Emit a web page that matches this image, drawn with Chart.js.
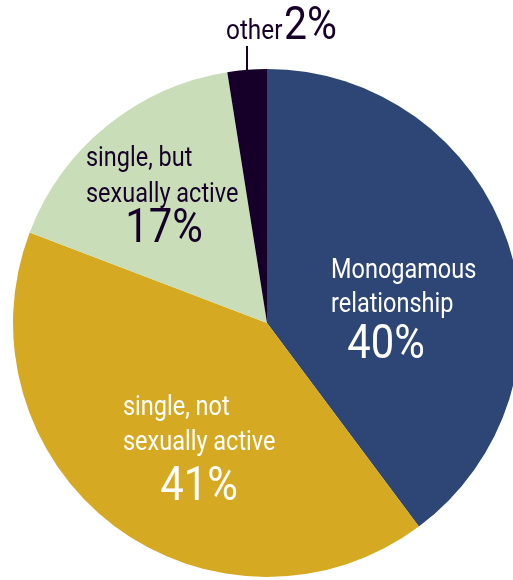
<!DOCTYPE html>
<html>
<head>
<meta charset="utf-8">
<script src="https://cdn.jsdelivr.net/npm/chart.js@4.4.1/dist/chart.umd.min.js"></script>
<style>
  html, body { margin: 0; padding: 0; background: #fff; overflow: hidden; }
  body { width: 513px; height: 580px; position: relative; }
  #wrap { position: absolute; left: 0; top: 0; width: 540px; height: 600px; }
</style>
</head>
<body>
<div id="wrap"><canvas id="myChart"></canvas></div>
<script>
// pie data, clockwise from 12 o'clock
const categories = ['Monogamous relationship', 'single, not sexually active', 'single, but sexually active', 'other'];
const sliceValues = [39.8, 41, 16.7, 2.5];   // as measured from the slice angles
const shareLabels = ['40%', '41%', '17%', '2%'];
const sliceColors = ['#2E4675', '#D6A922', '#C9DDB8', '#16002A'];

// text shown on the chart for each slice
const labelLines = [['Monogamous', 'relationship'], ['single, not', 'sexually active'], ['single, but', 'sexually active'], ['other']];
const labelColors = ['#FFFFFF', '#FFFFFF', '#16002A', '#16002A'];

const SQUEEZE = 0.87; // condensed look

function drawText(ctx, text, x, y, size, color, align) {
    ctx.save();
    ctx.font = size + 'px Roboto';
    ctx.fillStyle = color;
    ctx.textBaseline = 'alphabetic';
    ctx.textAlign = align;
    ctx.scale(SQUEEZE, 1);
    ctx.fillText(text, x / SQUEEZE, y);
    ctx.restore();
}

const labelPlugin = {
    id: 'sliceLabels',
    afterDraw(chart) {
        const ctx = chart.ctx;

        // Monogamous relationship 40%
        drawText(ctx, labelLines[0][0], 331, 278, 27, labelColors[0], 'left');
        drawText(ctx, labelLines[0][1], 331, 312, 27, labelColors[0], 'left');
        drawText(ctx, shareLabels[0], 386, 358, 48, labelColors[0], 'center');

        // single, not sexually active 41%
        drawText(ctx, labelLines[1][0], 123, 415, 27, labelColors[1], 'left');
        drawText(ctx, labelLines[1][1], 123, 450, 27, labelColors[1], 'left');
        drawText(ctx, shareLabels[1], 199, 500, 48, labelColors[1], 'center');

        // single, but sexually active 17%
        drawText(ctx, labelLines[2][0], 86, 166, 27, labelColors[2], 'left');
        drawText(ctx, labelLines[2][1], 86, 202, 27, labelColors[2], 'left');
        drawText(ctx, shareLabels[2], 164, 242, 48, labelColors[2], 'center');

        // other 2% above the pie, with leader line
        drawText(ctx, labelLines[3][0], 226, 39, 28, labelColors[3], 'left');
        drawText(ctx, shareLabels[3], 284, 39, 47, labelColors[3], 'left');
        ctx.save();
        ctx.strokeStyle = labelColors[3];
        ctx.lineWidth = 2;
        ctx.beginPath();
        ctx.moveTo(247, 46);
        ctx.lineTo(247, 70);
        ctx.stroke();
        ctx.restore();
    }
};

const ctx = document.getElementById('myChart').getContext('2d');
new Chart(ctx, {
    type: 'pie',
    data: {
        labels: categories,
        datasets: [{
            data: sliceValues,
            backgroundColor: sliceColors,
            borderColor: sliceColors,
            borderWidth: 0
        }]
    },
    options: {
        responsive: true,
        maintainAspectRatio: false,
        animation: false,
        layout: {
            padding: { left: 13, right: 19, top: 69, bottom: 23 }
        },
        plugins: {
            legend: { display: false },
            tooltip: { enabled: false }
        }
    },
    plugins: [labelPlugin]
});
</script>
</body>
</html>
